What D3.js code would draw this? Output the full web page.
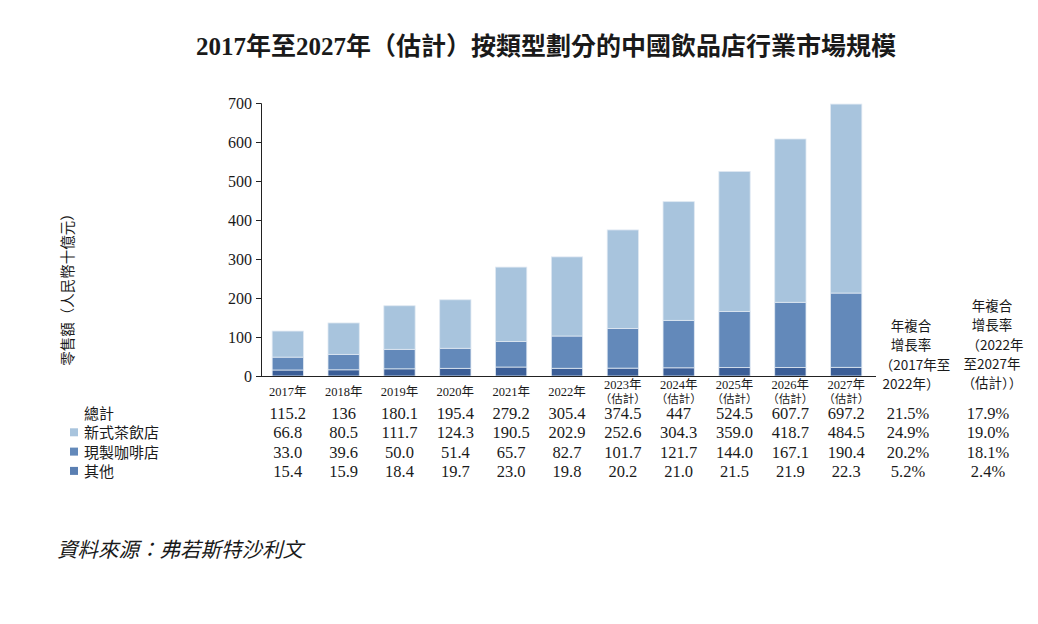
<!DOCTYPE html>
<html>
<head>
    <meta charset="utf-8">
    <title>中國飲品店行業市場規模</title>
    <script src="https://cdnjs.cloudflare.com/ajax/libs/d3/7.8.5/d3.min.js"></script>
    <style>
        body { margin: 0; background: #fff; }
        svg text { fill: #1a1a1a; }
    </style>
</head>
<body>
<script type="text/javascript">
    var years = ["2017年", "2018年", "2019年", "2020年", "2021年", "2022年",
                 "2023年", "2024年", "2025年", "2026年", "2027年"];
    var estimated = [false, false, false, false, false, false, true, true, true, true, true];
    var total = ["115.2", "136", "180.1", "195.4", "279.2", "305.4", "374.5", "447", "524.5", "607.7", "697.2"];
    var tea = [66.8, 80.5, 111.7, 124.3, 190.5, 202.9, 252.6, 304.3, 359.0, 418.7, 484.5];
    var coffee = [33.0, 39.6, 50.0, 51.4, 65.7, 82.7, 101.7, 121.7, 144.0, 167.1, 190.4];
    var other = [15.4, 15.9, 18.4, 19.7, 23.0, 19.8, 20.2, 21.0, 21.5, 21.9, 22.3];
    var seriesNames = ["新式茶飲店", "現製咖啡店", "其他"];
    var cagr1 = ["21.5%", "24.9%", "20.2%", "5.2%"];
    var cagr2 = ["17.9%", "19.0%", "18.1%", "2.4%"];
    var yTicks = [0, 100, 200, 300, 400, 500, 600, 700];

    var width = 1038, height = 624;
    var serif = "'Liberation Serif', 'Noto Sans CJK TC', serif";
    var cjk = "'Noto Sans CJK TC', sans-serif";
    var colors = { "新式茶飲店": "#a8c4dd", "現製咖啡店": "#6389ba", "其他": "#3b5e97" };

    var svg = d3.select("body").append("svg")
        .attr("width", width)
        .attr("height", height);

    var x = d3.scaleBand()
        .domain(years)
        .range([261, 873])
        .paddingInner(0.44)
        .paddingOuter(0.2);

    var y = d3.scaleLinear()
        .domain([0, 700])
        .range([376, 103]);

    // stacked bars: 其他 bottom, 現製咖啡店 middle, 新式茶飲店 top
    var rows = years.map(function (yr, i) {
        return { year: yr, "其他": other[i], "現製咖啡店": coffee[i], "新式茶飲店": tea[i] };
    });
    var stack = d3.stack().keys(["其他", "現製咖啡店", "新式茶飲店"]);

    svg.append("g").selectAll("g")
        .data(stack(rows))
        .enter().append("g")
            .attr("fill", function (d) { return colors[d.key]; })
        .selectAll("rect")
        .data(function (d) { return d; })
        .enter().append("rect")
            .attr("x", function (d) { return x(d.data.year); })
            .attr("y", function (d) { return y(d[1]); })
            .attr("width", x.bandwidth())
            .attr("height", function (d) { return y(d[0]) - y(d[1]); })
            .attr("stroke", "#dfe8f2")
            .attr("stroke-width", 0.8);

    // y axis
    var yAxis = d3.axisLeft(y).tickValues(yTicks).tickSize(5).tickPadding(4);
    var gy = svg.append("g")
        .attr("transform", "translate(261,0)")
        .call(yAxis);
    gy.selectAll("path, line").attr("stroke", "#222");
    gy.select(".domain").attr("d", "M-5,103.5H0.5V376.5");
    gy.selectAll("text").style("font-family", serif).style("font-size", "16px").attr("fill", "#1a1a1a");

    // x axis line
    svg.append("line")
        .attr("x1", 256).attr("x2", 876)
        .attr("y1", 376.5).attr("y2", 376.5)
        .attr("stroke", "#222");

    // year labels
    var yl = svg.append("g");
    years.forEach(function (yr, i) {
        var cx = x(yr) + x.bandwidth() / 2;
        var t = yl.append("text")
            .attr("x", cx)
            .attr("text-anchor", "middle")
            .style("font-family", serif)
            .style("font-size", "12.5px");
        if (estimated[i]) {
            t.attr("y", 389).text(yr);
            yl.append("text")
                .attr("x", cx).attr("y", 403)
                .attr("text-anchor", "middle")
                .style("font-family", cjk)
                .style("font-size", "11.5px")
                .text("（估計）");
        } else {
            t.attr("y", 396).text(yr);
        }
    });

    // y title
    svg.append("text")
        .attr("transform", "translate(73,286) rotate(-90)")
        .attr("text-anchor", "middle")
        .style("font-family", cjk)
        .style("font-size", "14.5px")
        .text("零售額（人民幣十億元）");

    // title
    svg.append("text")
        .attr("x", 546).attr("y", 55)
        .attr("text-anchor", "middle")
        .style("font-family", serif)
        .style("font-size", "25px")
        .style("font-weight", "bold")
        .text("2017年至2027年（估計）按類型劃分的中國飲品店行業市場規模");

    // CAGR headers
    var h1 = ["年複合", "增長率", "（2017年至", "2022年）"];
    var h2 = ["年複合", "增長率", "（2022年", "至2027年", "（估計））"];
    h1.forEach(function (s, i) {
        svg.append("text")
            .attr("x", i == 2 ? 915 : 911).attr("y", 331 + i * 19.3)
            .attr("text-anchor", "middle")
            .style("font-family", cjk).style("font-size", "13.5px")
            .text(s);
    });
    h2.forEach(function (s, i) {
        svg.append("text")
            .attr("x", i == 2 ? 995 : 992).attr("y", 311 + i * 19.3)
            .attr("text-anchor", "middle")
            .style("font-family", cjk).style("font-size", "13.5px")
            .text(s);
    });

    // data table
    var tableRows = [
        { label: "總計", values: total, c1: cagr1[0], c2: cagr2[0], color: null },
        { label: seriesNames[0], values: tea.map(function (v) { return v.toFixed(1); }), c1: cagr1[1], c2: cagr2[1], color: colors["新式茶飲店"] },
        { label: seriesNames[1], values: coffee.map(function (v) { return v.toFixed(1); }), c1: cagr1[2], c2: cagr2[2], color: colors["現製咖啡店"] },
        { label: seriesNames[2], values: other.map(function (v) { return v.toFixed(1); }), c1: cagr1[3], c2: cagr2[3], color: "#5a7fb2" }
    ];
    var tg = svg.append("g");
    tableRows.forEach(function (r, i) {
        var ty = 419 + i * 19.3;
        if (r.color) {
            tg.append("rect")
                .attr("x", 70).attr("y", ty - 10)
                .attr("width", 8).attr("height", 8)
                .attr("fill", r.color);
        }
        tg.append("text")
            .attr("x", 84).attr("y", ty)
            .style("font-family", cjk).style("font-size", "15px")
            .text(r.label);
        r.values.forEach(function (v, j) {
            tg.append("text")
                .attr("x", x(years[j]) + x.bandwidth() / 2)
                .attr("y", ty)
                .attr("text-anchor", "middle")
                .style("font-family", serif).style("font-size", "16.5px")
                .text(v);
        });
        tg.append("text")
            .attr("x", 908).attr("y", ty)
            .attr("text-anchor", "middle")
            .style("font-family", serif).style("font-size", "16.5px")
            .text(r.c1);
        tg.append("text")
            .attr("x", 988).attr("y", ty)
            .attr("text-anchor", "middle")
            .style("font-family", serif).style("font-size", "16.5px")
            .text(r.c2);
    });

    // source
    svg.append("text")
        .attr("x", 57).attr("y", 557)
        .style("font-family", cjk)
        .style("font-size", "20.5px")
        .style("font-style", "italic")
        .text("資料來源：弗若斯特沙利文");
</script>
</body>
</html>
